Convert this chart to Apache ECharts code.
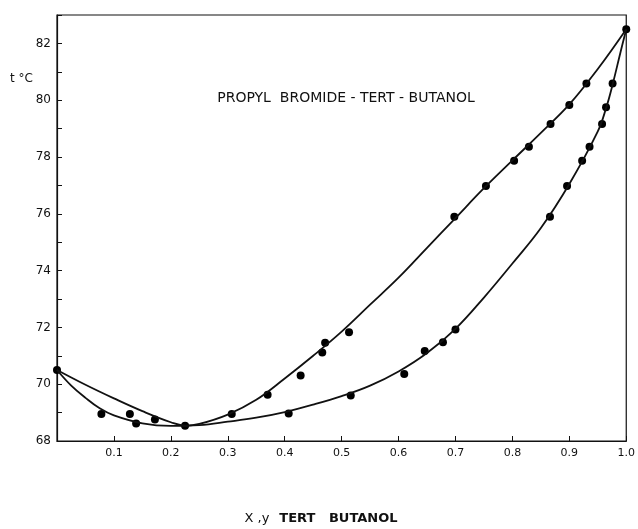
<!DOCTYPE html>
<html>
<head>
<meta charset="utf-8">
<script src="https://cdn.jsdelivr.net/npm/echarts@6/dist/echarts.min.js"></script>
<style>
  html, body { margin: 0; padding: 0; background: #fff; }
  #chart { width: 638px; height: 529px; }
</style>
</head>
<body>
<div id="chart"></div>
<script>
// 拟合曲线
const dewCurve = [
  [0, 70.5], [0.05, 69.98], [0.1, 69.5], [0.15, 69.05], [0.2, 68.66], [0.226, 68.54], [0.25, 68.6],
  [0.3, 68.93], [0.35, 69.45], [0.4, 70.2], [0.45, 71.0], [0.5, 71.85], [0.55, 72.8], [0.6, 73.75],
  [0.65, 74.8], [0.7, 75.85], [0.75, 76.9], [0.8, 77.88], [0.85, 78.85], [0.9, 79.85], [0.95, 81.1],
  [1.0, 82.5]
];
const bubbleCurve = [
  [0, 70.5], [0.025, 69.95], [0.05, 69.52], [0.075, 69.15], [0.1, 68.9], [0.15, 68.62], [0.2, 68.53],
  [0.25, 68.56], [0.3, 68.68], [0.35, 68.82], [0.4, 69.02], [0.45, 69.28], [0.5, 69.58],
  [0.55, 69.95], [0.6, 70.45], [0.65, 71.1], [0.7, 71.95], [0.75, 73.05], [0.8, 74.25], [0.85, 75.5],
  [0.9, 77.05], [0.95, 78.9], [0.965, 79.75], [0.976, 80.55], [0.99, 81.7], [1.0, 82.5]
];

// 实验点
const dewPoints = [
  [0.128, 68.95], [0.172, 68.76], [0.307, 68.95], [0.370, 69.63], [0.428, 70.31], [0.466, 71.12],
  [0.471, 71.46], [0.513, 71.83], [0.698, 75.9], [0.7535, 76.98], [0.803, 77.87], [0.829, 78.36],
  [0.867, 79.16], [0.900, 79.83], [0.930, 80.59]
];
const bubblePoints = [
  [0.078, 68.95], [0.139, 68.62], [0.407, 68.97], [0.516, 69.6], [0.610, 70.36], [0.646, 71.17],
  [0.678, 71.48], [0.700, 71.93], [0.866, 75.9], [0.896, 76.98], [0.9225, 77.87], [0.9355, 78.36],
  [0.9575, 79.16], [0.9645, 79.75], [0.976, 80.59]
];
const sharedPoints = [[0, 70.5], [0.225, 68.54], [1.0, 82.5]];

const xLabels = ["", "0.1", "0.2", "0.3", "0.4", "0.5", "0.6", "0.7", "0.8", "0.9", "1.0"];
const yLabelValues = [68, 70, 72, 74, 76, 78, 80, 82];

const ink = "#111";
const font = "DejaVu Sans";

const el = document.getElementById("chart");
const em = echarts.init(el);

//曲线公共样式
function curve(name, data) {
  return {
    name: name, type: "line", data: data, smooth: 0.4, symbol: "none",
    lineStyle: { color: ink, width: 1.8 }
  };
}

function dots(name, data) {
  return {
    name: name, type: "scatter", data: data, symbolSize: 8,
    itemStyle: { color: "#000", opacity: 1 }
  };
}

em.setOption({
  backgroundColor: "#fff",
  animation: false,
  grid: {
    left: 57, right: 10, top: 15, bottom: 88,
    show: true, borderColor: ink, borderWidth: 1.2, backgroundColor: "transparent"
  },
  xAxis: {
    type: "value",
    min: 0,
    max: 1,
    interval: 0.1,
    axisLine: { lineStyle: { color: ink, width: 1.2 } },
    axisTick: { inside: true, length: 5, lineStyle: { color: ink } },
    splitLine: { show: false },
    axisLabel: {
      color: ink, fontFamily: font, fontSize: 11, margin: 7,
      formatter: v => xLabels[Math.round(v * 10)] || ""
    }
  },
  yAxis: {
    type: "value",
    min: 68,
    max: 83,
    interval: 1,
    axisLine: { show: true, lineStyle: { color: ink, width: 1.2 } },
    axisTick: { inside: true, length: 5, lineStyle: { color: ink } },
    splitLine: { show: false },
    axisLabel: {
      color: ink, fontFamily: font, fontSize: 12, margin: 6,
      formatter: v => (yLabelValues.indexOf(v) >= 0 ? String(v) : "")
    }
  },
  graphic: [
    { type: "text", x: 10, y: 73, style: { text: "t °C", fill: ink, font: "12px " + font } },
    {
      type: "text", x: 346, y: 91,
      style: {
        text: "PROPYL  BROMIDE - TERT - BUTANOL", fill: ink, font: "14px " + font,
        textAlign: "center"
      }
    },
    {
      type: "text", x: 321, y: 512,
      style: {
        text: "{a|X ,y}   {b|TERT   BUTANOL}", textAlign: "center",
        rich: {
          a: { fill: ink, font: "13px " + font },
          b: { fill: ink, font: "bold 13px " + font }
        }
      }
    }
  ],
  series: [
    curve("dew", dewCurve),
    curve("bubble", bubbleCurve),
    dots("dewPts", dewPoints),
    dots("bubblePts", bubblePoints),
    dots("shared", sharedPoints)
  ]
});
</script>
</body>
</html>
